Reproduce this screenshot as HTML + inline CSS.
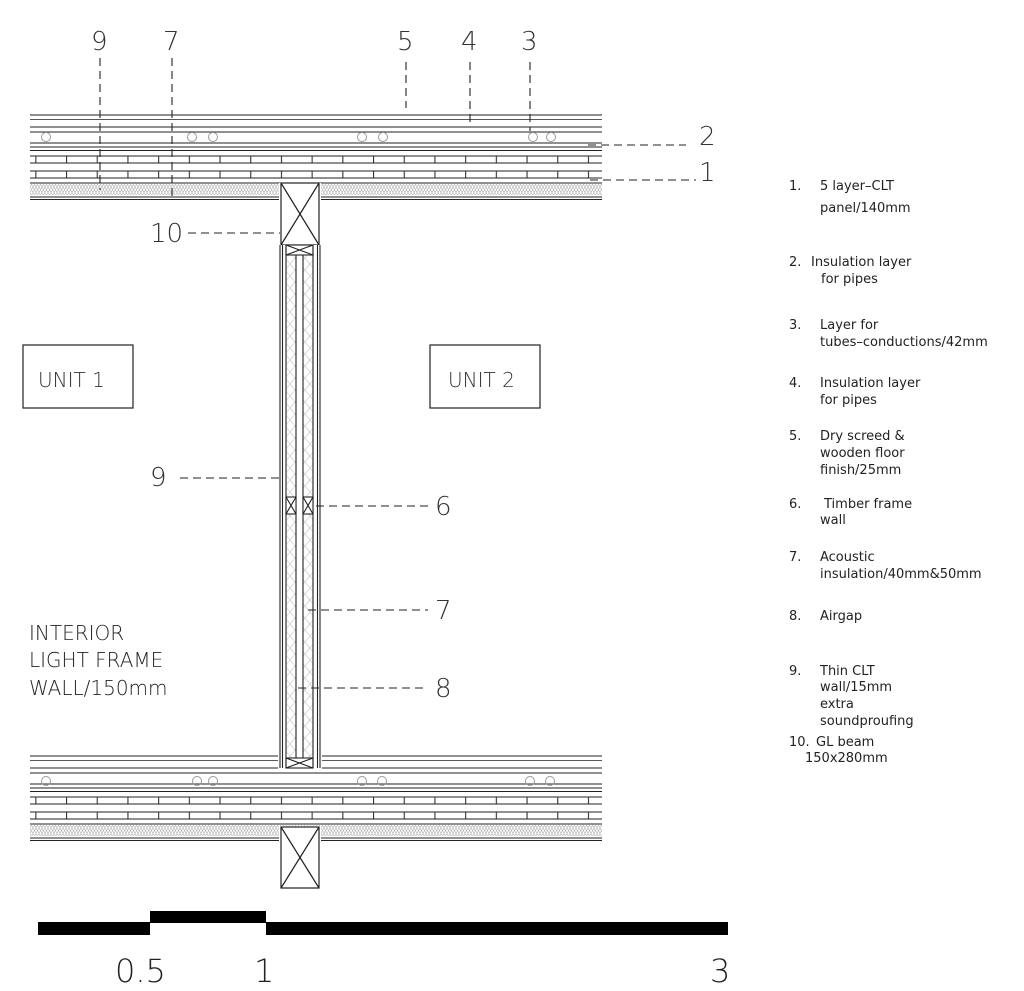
<!DOCTYPE html>
<html><head><meta charset="utf-8"><style>
html,body{margin:0;padding:0;background:#fff;}
svg{display:block;}
text{font-family:"DejaVu Sans","Liberation Sans",sans-serif;fill:#222;}
.big{font-size:26px;font-weight:200;fill:#333;}
.lg{font-size:13px;}
</style></head><body>
<svg width="1024" height="991" viewBox="0 0 1024 991" xmlns="http://www.w3.org/2000/svg">
<defs>
<pattern id="ins" x="0" y="0" width="6" height="11" patternUnits="userSpaceOnUse">
<path d="M0,0 L3,5.5 L0,11 M6,0 L3,5.5 L6,11 M3,0 L0,5.5 L3,11 M3,0 L6,5.5 L3,11" stroke="#bbb" stroke-width="0.7" fill="none"/>
</pattern>
<pattern id="winsul" x="0" y="0" width="10" height="12" patternUnits="userSpaceOnUse">
<path d="M0,0 L10,12 M10,0 L0,12" stroke="#ccc" stroke-width="0.7" fill="none"/>
</pattern>
<pattern id="brick" x="66" y="0" width="30.7" height="200" patternUnits="userSpaceOnUse">
<line x1="0.5" y1="0" x2="0.5" y2="200" stroke="#333" stroke-width="1.2"/>
</pattern>
<g id="slab" stroke="#222" stroke-width="1.1" fill="none">
<line x1="30" y1="115" x2="602" y2="115"/>
<line x1="30" y1="119.5" x2="602" y2="119.5" stroke-width="0.8"/>
<line x1="30" y1="127" x2="602" y2="127"/>
<line x1="30" y1="132" x2="602" y2="132"/>
<line x1="30" y1="143" x2="602" y2="143"/>
<line x1="30" y1="147" x2="602" y2="147"/>
<line x1="30" y1="150.5" x2="602" y2="150.5"/>
<line x1="30" y1="156" x2="602" y2="156"/>
<rect x="30" y="156" width="572" height="7" fill="url(#brick)" stroke="none"/>
<line x1="30" y1="163" x2="602" y2="163"/>
<line x1="30" y1="171" x2="602" y2="171"/>
<rect x="30" y="171" width="572" height="7" fill="url(#brick)" stroke="none"/>
<line x1="30" y1="178" x2="602" y2="178"/>
<line x1="30" y1="183" x2="602" y2="183"/>
<rect x="30" y="184" width="572" height="11" fill="url(#ins)" stroke="none"/>
<line x1="30" y1="197" x2="602" y2="197"/>
<line x1="30" y1="199.5" x2="602" y2="199.5"/>
</g>
</defs>

<use href="#slab"/>
<g stroke="#999" fill="none" stroke-width="1">
<circle cx="46" cy="137" r="4.5"/><circle cx="192" cy="137" r="4.5"/><circle cx="213" cy="137" r="4.5"/>
<circle cx="362" cy="137" r="4.5"/><circle cx="383" cy="137" r="4.5"/><circle cx="533" cy="137" r="4.5"/><circle cx="551" cy="137" r="4.5"/>
</g>

<use href="#slab" transform="translate(0,641)"/>
<g stroke="#999" fill="none" stroke-width="1">
<circle cx="46" cy="781" r="4.5"/><circle cx="197" cy="781" r="4.5"/><circle cx="213" cy="781" r="4.5"/>
<circle cx="362" cy="781" r="4.5"/><circle cx="382" cy="781" r="4.5"/><circle cx="530" cy="781" r="4.5"/><circle cx="550" cy="781" r="4.5"/>
</g>

<rect x="279" y="183" width="42" height="63" fill="#fff" stroke="none"/>
<g stroke="#222" stroke-width="1.2" fill="none">
<rect x="281" y="183" width="38" height="62"/>
<line x1="281" y1="183" x2="319" y2="245"/><line x1="319" y1="183" x2="281" y2="245"/>
</g>

<rect x="278" y="245" width="44" height="524" fill="#fff"/>
<rect x="286" y="256" width="10" height="502" fill="url(#winsul)"/>
<rect x="303" y="256" width="10" height="502" fill="url(#winsul)"/>
<g stroke="#222" stroke-width="1.1" fill="none">
<line x1="280" y1="245" x2="280" y2="768"/><line x1="282.5" y1="245" x2="282.5" y2="768"/>
<line x1="317.5" y1="245" x2="317.5" y2="768"/><line x1="320" y1="245" x2="320" y2="768"/>
<line x1="286" y1="245" x2="286" y2="768"/><line x1="296" y1="255" x2="296" y2="758"/>
<line x1="303" y1="255" x2="303" y2="758"/><line x1="313" y1="245" x2="313" y2="768"/>
<rect x="286" y="245" width="27" height="10"/>
<path d="M286,245 L313,255 M313,245 L286,255"/>
<rect x="286" y="758" width="27" height="10"/>
<path d="M286,758 L313,768 M313,758 L286,768"/>
<rect x="286" y="497" width="10" height="17" fill="#fff"/>
<path d="M286,497 L296,514 M296,497 L286,514"/>
<rect x="303" y="497" width="10" height="17" fill="#fff"/>
<path d="M303,497 L313,514 M313,497 L303,514"/>
</g>

<rect x="279" y="826" width="42" height="63" fill="#fff" stroke="none"/>
<g stroke="#222" stroke-width="1.2" fill="none">
<rect x="281" y="827" width="38" height="61"/>
<line x1="281" y1="827" x2="319" y2="888"/><line x1="319" y1="827" x2="281" y2="888"/>
</g>

<g stroke="#222" stroke-width="1.1" stroke-dasharray="8,5" fill="none">
<line x1="100" y1="58" x2="100" y2="190"/>
<line x1="172" y1="58" x2="172" y2="198"/>
<line x1="406" y1="62" x2="406" y2="108"/>
<line x1="470" y1="62" x2="470" y2="122"/>
<line x1="530" y1="62" x2="530" y2="131"/>
<line x1="588" y1="145" x2="686" y2="145"/>
<line x1="590" y1="180" x2="696" y2="180"/>
<line x1="188" y1="233" x2="280" y2="233"/>
<line x1="180" y1="478" x2="280" y2="478"/>
<line x1="316" y1="506" x2="428" y2="506"/>
<line x1="308" y1="610" x2="428" y2="610"/>
<line x1="298" y1="688" x2="428" y2="688"/>
</g>
<g class="big">
<text x="91" y="50" class="big">9</text>
<text x="163" y="50" class="big">7</text>
<text x="397" y="50" class="big">5</text>
<text x="461" y="50" class="big">4</text>
<text x="521" y="50" class="big">3</text>
<text x="699" y="145" class="big">2</text>
<text x="699" y="181" class="big">1</text>
<text x="150" y="242" class="big">10</text>
<text x="150" y="486" class="big">9</text>
<text x="435" y="515" class="big">6</text>
<text x="435" y="619" class="big">7</text>
<text x="435" y="697" class="big">8</text>
</g>

<rect x="23" y="345" width="110" height="63" fill="none" stroke="#222" stroke-width="1.2"/>
<text x="38" y="387" style="font-size:20px;font-weight:200;fill:#333">UNIT 1</text>
<rect x="430" y="345" width="110" height="63" fill="none" stroke="#222" stroke-width="1.2"/>
<text x="448" y="387" style="font-size:20px;font-weight:200;fill:#333">UNIT 2</text>
<g style="font-size:20px;font-weight:200;fill:#333">
<text x="29" y="640">INTERIOR</text>
<text x="29" y="667">LIGHT FRAME</text>
<text x="29" y="695">WALL/150mm</text>
</g>

<g class="lg">
<text x="789" y="190">1.</text><text x="820" y="190">5 layer–CLT</text><text x="820" y="212">panel/140mm</text>
<text x="789" y="266">2.</text><text x="811" y="266">Insulation layer</text><text x="821" y="283">for pipes</text>
<text x="789" y="329">3.</text><text x="820" y="329">Layer for</text><text x="820" y="346">tubes–conductions/42mm</text>
<text x="789" y="387">4.</text><text x="820" y="387">Insulation layer</text><text x="820" y="404">for pipes</text>
<text x="789" y="440">5.</text><text x="820" y="440">Dry screed &amp;</text><text x="820" y="457">wooden floor</text><text x="820" y="474">finish/25mm</text>
<text x="789" y="508">6.</text><text x="824" y="508">Timber frame</text><text x="820" y="524">wall</text>
<text x="789" y="561">7.</text><text x="820" y="561">Acoustic</text><text x="820" y="578">insulation/40mm&amp;50mm</text>
<text x="789" y="620">8.</text><text x="820" y="620">Airgap</text>
<text x="789" y="675">9.</text><text x="820" y="675">Thin CLT</text><text x="820" y="691">wall/15mm</text><text x="820" y="708">extra</text><text x="820" y="725">soundproufing</text>
<text x="789" y="746">10.</text><text x="816" y="746">GL beam</text><text x="805" y="762">150x280mm</text>
</g>

<rect x="38" y="922" width="112" height="13" fill="#000"/>
<rect x="150" y="911" width="116" height="12" fill="#000"/>
<rect x="266" y="922" width="462" height="13" fill="#000"/>
<g style="font-size:32px;font-weight:100;fill:#444">
<text x="115" y="982">0.5</text>
<text x="254" y="982">1</text>
<text x="710" y="982">3</text>
</g>
</svg>
</body></html>
